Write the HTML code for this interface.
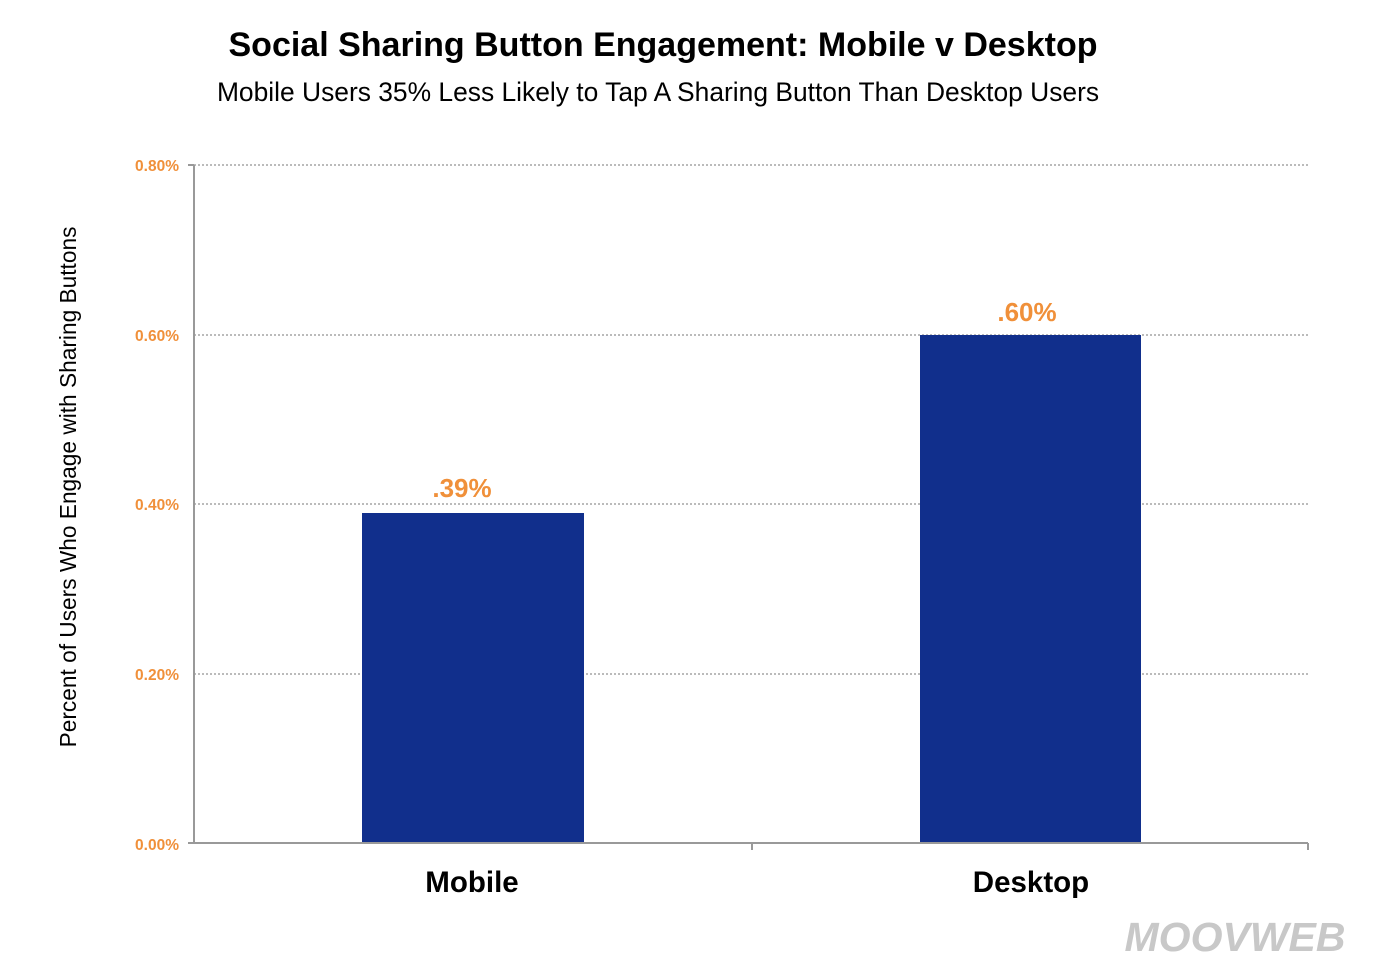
<!DOCTYPE html>
<html><head><meta charset="utf-8"><style>
body{margin:0;background:#fff;width:1374px;height:970px;overflow:hidden}
</style></head><body>
<svg width="1374" height="970" xmlns="http://www.w3.org/2000/svg" font-family="Liberation Sans, Arial, sans-serif">
<text x="663" y="56" text-anchor="middle" font-size="34" font-weight="bold" fill="#000">Social Sharing Button Engagement: Mobile v Desktop</text>
<text x="658" y="101" text-anchor="middle" font-size="26.4" fill="#000">Mobile Users 35% Less Likely to Tap A Sharing Button Than Desktop Users</text>
<g stroke="#bbb" stroke-width="2" stroke-dasharray="2,2">
<line x1="194" y1="165" x2="1308" y2="165"/>
<line x1="194" y1="335" x2="1308" y2="335"/>
<line x1="194" y1="504" x2="1308" y2="504"/>
<line x1="194" y1="674" x2="1308" y2="674"/>
</g>
<g fill="#f0903a" font-size="15.5" font-weight="bold" text-anchor="end">
<text x="179" y="171">0.80%</text>
<text x="179" y="341">0.60%</text>
<text x="179" y="510">0.40%</text>
<text x="179" y="680">0.20%</text>
<text x="179" y="850">0.00%</text>
</g>
<rect x="362" y="513" width="222" height="330" fill="#112f8c"/>
<rect x="920" y="335" width="221" height="508" fill="#112f8c"/>
<g stroke="#999" stroke-width="2" fill="none">
<line x1="194" y1="165" x2="194" y2="843"/>
<line x1="188" y1="165" x2="194" y2="165"/>
<line x1="188" y1="843" x2="1308" y2="843"/>
<line x1="752" y1="843" x2="752" y2="850"/>
<line x1="1308" y1="843" x2="1308" y2="850"/>
</g>
<g fill="#f0903a" font-size="26" font-weight="bold" text-anchor="middle">
<text x="462" y="497">.39%</text>
<text x="1027" y="321">.60%</text>
</g>
<g font-size="29.5" font-weight="bold" text-anchor="middle" fill="#000">
<text x="472" y="892">Mobile</text>
<text x="1031" y="892">Desktop</text>
</g>
<text transform="translate(76,487) rotate(-90)" text-anchor="middle" font-size="22.7" fill="#000">Percent of Users Who Engage with Sharing Buttons</text>
<text x="1235" y="951" text-anchor="middle" font-size="41" font-weight="bold" font-style="italic" fill="#c8c8c8">MOOVWEB</text>
</svg>
</body></html>
